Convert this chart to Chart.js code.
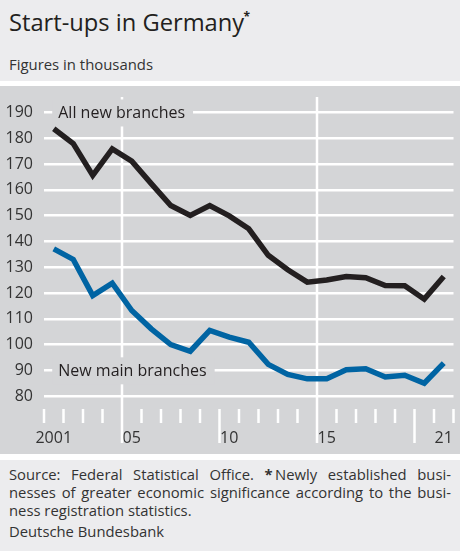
<!DOCTYPE html>
<html>
<head>
<meta charset="utf-8">
<script src="https://cdn.jsdelivr.net/npm/chart.js@4/dist/chart.umd.min.js"></script>
<style>
  body { margin: 0; width: 460px; height: 551px; background: #fff; position: relative; overflow: hidden;
         font-family: "Open Sans", sans-serif; color: #333; }
  #head { position: absolute; left: 0; top: 0; width: 460px; height: 81px; background: #ececee; }
  #title { position: absolute; left: 9px; top: 8px; font-size: 23.7px; font-weight: 500; line-height: 28px; color: #231f20; white-space: nowrap; }
  #title span { position: absolute; right: -6px; top: 3px; font-size: 12px; line-height: 12px; font-weight: 700; }
  #sub { position: absolute; left: 9px; top: 55px; font-size: 14.9px; line-height: 18px; color: #333; white-space: nowrap; }
  #panel { position: absolute; left: 0; top: 86px; width: 460px; height: 368px; background: #d4d5d7; }
  #foot { position: absolute; left: 0; top: 460px; width: 460px; height: 91px; background: #ececee; }
  #note { position: absolute; left: 9px; top: 5px; width: 442px; font-size: 14.8px; line-height: 18px; color: #333; }
  #note div { text-align: justify; text-align-last: justify; white-space: nowrap; }
  #note div.last { text-align-last: left; }
  #bank { position: absolute; left: 9px; top: 62px; font-size: 14.8px; line-height: 18px; color: #333; }
</style>
</head>
<body>
<div id="head">
  <div id="title">Start-ups in Germany<span>*</span></div>
  <div id="sub">Figures in thousands</div>
</div>
<div id="panel"><canvas id="chart"></canvas></div>
<div id="foot">
  <div id="note">
    <div>Source: Federal Statistical Office. <b>*</b>&#8201;Newly established busi-</div>
    <div>nesses of greater economic significance according to the busi-</div>
    <div class="last">ness registration statistics.</div>
  </div>
  <div id="bank">Deutsche Bundesbank</div>
</div>

<script>
// data, in thousands
const years = [2001, 2002, 2003, 2004, 2005, 2006, 2007, 2008, 2009, 2010, 2011,
               2012, 2013, 2014, 2015, 2016, 2017, 2018, 2019, 2020, 2021];
const allNewBranches = [183.7, 177.9, 165.6, 175.9, 171.1, 162.4, 153.9, 150.1, 153.9, 149.9, 144.9,
                        134.6, 129.0, 124.2, 125.0, 126.4, 125.9, 122.9, 122.8, 117.6, 126.4];
const newMainBranches = [137.1, 133.0, 119.0, 123.8, 113.2, 106.1, 100.0, 97.4, 105.5, 102.9, 100.9,
                         92.3, 88.4, 86.7, 86.7, 90.2, 90.6, 87.4, 88.1, 85.0, 92.8];
const yTicks = [80, 90, 100, 110, 120, 130, 140, 150, 160, 170, 180, 190];
const xTickYears = [2001, 2005, 2010, 2015, 2021];
const xTickLabels = ['2001', '05', '10', '15', '21'];

const panelColor = '#d4d5d7';
const font = 'Open Sans';

// the tick label padding would otherwise push the plot area inwards
function noAutoPadding(s) {
    s.paddingTop = 0;
    s.paddingBottom = 0;
    s.paddingLeft = 0;
    s.paddingRight = 0;
}

// year separators, white lines and series labels
const decor = {
    id: 'decor',
    beforeDatasetsDraw(chart) {
        const { ctx, chartArea, scales: { x, y } } = chart;
        const base = chartArea.bottom;
        ctx.save();
        ctx.strokeStyle = '#fff';
        ctx.lineWidth = 2.5;
        for (let b = years[0] - 0.5; b <= years[years.length - 1] + 0.5; b++) {
            const px = x.getPixelForValue(b);
            let top = base, end = base + 14;
            if (b === 2004.5 || b === 2014.5) { top = chartArea.top; end = base + 34; }
            else if (b === 2009.5 || b === 2019.5) { end = base + 34; }
            ctx.beginPath();
            ctx.moveTo(px, top);
            ctx.lineTo(px, end);
            ctx.stroke();
        }

        ctx.font = '16px "' + font + '"';
        ctx.textBaseline = 'middle';
        const labels = [
            { text: 'All new branches', year: 2001.23, value: 190 },
            { text: 'New main branches', year: 2001.23, value: 90 }
        ];
        labels.forEach(l => {
            const lx = x.getPixelForValue(l.year);
            const ly = y.getPixelForValue(l.value);
            const w = ctx.measureText(l.text).width;
            ctx.fillStyle = panelColor;
            ctx.fillRect(lx - 6, ly - 13, w + 14, 27);
            ctx.fillStyle = '#231f20';
            ctx.fillText(l.text, lx, ly + 1);
        });
        ctx.restore();
    }
};

new Chart(document.getElementById('chart'), {
    type: 'line',
    data: {
        datasets: [{
            label: 'All new branches',
            data: years.map((yr, i) => ({ x: yr, y: allNewBranches[i] })),
            borderColor: '#231f20',
            borderWidth: 5.5,
            pointRadius: 0,
            tension: 0
        },
        {
            label: 'New main branches',
            data: years.map((yr, i) => ({ x: yr, y: newMainBranches[i] })),
            borderColor: '#0064a3',
            borderWidth: 5.5,
            pointRadius: 0,
            tension: 0
        }]
    },
    options: {
        responsive: true,
        maintainAspectRatio: false,
        animation: false,
        layout: { autoPadding: false, padding: { top: 11, right: 6.5, left: 0, bottom: 0 } },
        plugins: {
            legend: { display: false },
            tooltip: { enabled: false }
        },
        scales: {
            x: {
                type: 'linear',
                min: 2000.5,
                max: 2021.5,
                afterBuildTicks: s => { s.ticks = xTickYears.map(v => ({ value: v })); },
                afterFit: s => { s.height = 45; noAutoPadding(s); },
                grid: { display: false, drawTicks: false },
                border: { display: false },
                ticks: {
                    padding: 20,
                    autoSkip: false,
                    maxRotation: 0,
                    color: '#333',
                    font: { family: font, size: 16 },
                    callback: (v, i) => xTickLabels[i]
                }
            },
            y: {
                min: 75,
                max: 196,
                afterBuildTicks: s => { s.ticks = yTicks.map(v => ({ value: v })); },
                afterFit: s => { s.width = 44; noAutoPadding(s); },
                grid: { color: '#fff', lineWidth: 2.5, drawTicks: false },
                border: { display: false },
                ticks: {
                    padding: 11,
                    color: '#333',
                    font: { family: font, size: 16 }
                }
            }
        }
    },
    plugins: [decor]
});
</script>
</body>
</html>
